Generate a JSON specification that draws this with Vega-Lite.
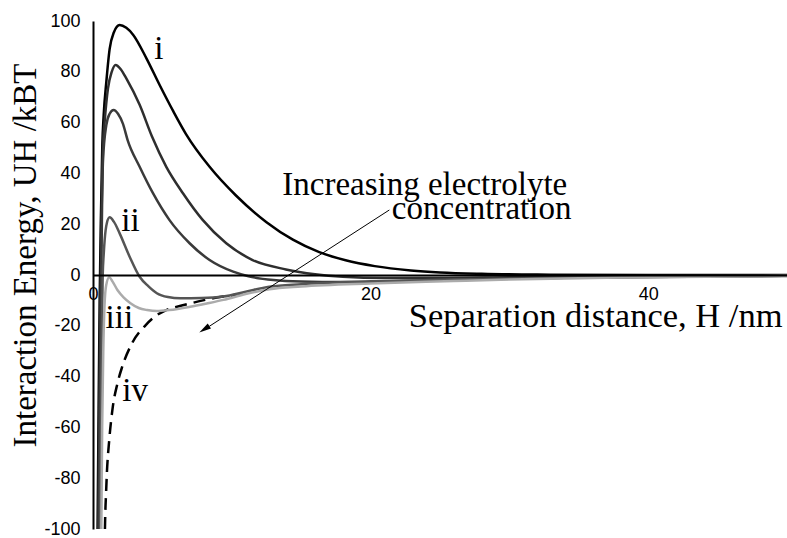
{
  "$schema": "https://vega.github.io/schema/vega-lite/v6.json",
  "width": 694,
  "height": 508,
  "autosize": "none",
  "padding": {"left": 93, "top": 21, "right": 0, "bottom": 9},
  "background": "white",
  "config": {"view": {"stroke": null}},
  "datasets": {
    "curves": [
      {"curve": "i", "H": 0.33, "U": -100}, {"curve": "i", "H": 0.4, "U": -55}, {"curve": "i", "H": 0.48, "U": -10}, {"curve": "i", "H": 0.56, "U": 20}, {"curve": "i", "H": 0.67, "U": 51}, {"curve": "i", "H": 0.77, "U": 63}, {"curve": "i", "H": 0.96, "U": 76}, {"curve": "i", "H": 1.2, "U": 89}, {"curve": "i", "H": 1.5, "U": 95.5}, {"curve": "i", "H": 1.92, "U": 98.4}, {"curve": "i", "H": 2.4, "U": 97.3}, {"curve": "i", "H": 2.9, "U": 94.5}, {"curve": "i", "H": 3.85, "U": 85.3}, {"curve": "i", "H": 4.8, "U": 74.8}, {"curve": "i", "H": 5.77, "U": 64.6}, {"curve": "i", "H": 6.7, "U": 55.5}, {"curve": "i", "H": 8.4, "U": 42.6}, {"curve": "i", "H": 10.3, "U": 31.3}, {"curve": "i", "H": 12.5, "U": 20.8}, {"curve": "i", "H": 14.4, "U": 13.9}, {"curve": "i", "H": 16.3, "U": 9.0}, {"curve": "i", "H": 18.2, "U": 5.8}, {"curve": "i", "H": 20.3, "U": 3.5}, {"curve": "i", "H": 22.9, "U": 1.8}, {"curve": "i", "H": 25, "U": 1.0}, {"curve": "i", "H": 28, "U": 0.45}, {"curve": "i", "H": 32, "U": 0.15}, {"curve": "i", "H": 40, "U": 0}, {"curve": "i", "H": 50, "U": 0},

      {"curve": "c2", "H": 0.38, "U": -100}, {"curve": "c2", "H": 0.45, "U": -55}, {"curve": "c2", "H": 0.53, "U": -10}, {"curve": "c2", "H": 0.62, "U": 25}, {"curve": "c2", "H": 0.72, "U": 51}, {"curve": "c2", "H": 0.84, "U": 60.4}, {"curve": "c2", "H": 1.08, "U": 73.5}, {"curve": "c2", "H": 1.35, "U": 80}, {"curve": "c2", "H": 1.63, "U": 82.7}, {"curve": "c2", "H": 2.0, "U": 81}, {"curve": "c2", "H": 2.4, "U": 77.4}, {"curve": "c2", "H": 3.36, "U": 67}, {"curve": "c2", "H": 4.25, "U": 54.5}, {"curve": "c2", "H": 5.28, "U": 42.6}, {"curve": "c2", "H": 6.48, "U": 32.2}, {"curve": "c2", "H": 7.9, "U": 21.7}, {"curve": "c2", "H": 9.6, "U": 12.5}, {"curve": "c2", "H": 11.5, "U": 5.9}, {"curve": "c2", "H": 13.9, "U": 2.2}, {"curve": "c2", "H": 16, "U": 0.3}, {"curve": "c2", "H": 18, "U": -0.7}, {"curve": "c2", "H": 21, "U": -1.2}, {"curve": "c2", "H": 25, "U": -1.2}, {"curve": "c2", "H": 30, "U": -0.9}, {"curve": "c2", "H": 38, "U": -0.5}, {"curve": "c2", "H": 50, "U": -0.2},

      {"curve": "c3", "H": 0.42, "U": -100}, {"curve": "c3", "H": 0.5, "U": -50}, {"curve": "c3", "H": 0.58, "U": -5}, {"curve": "c3", "H": 0.66, "U": 30}, {"curve": "c3", "H": 0.72, "U": 45}, {"curve": "c3", "H": 0.96, "U": 59}, {"curve": "c3", "H": 1.2, "U": 63.5}, {"curve": "c3", "H": 1.49, "U": 65}, {"curve": "c3", "H": 1.8, "U": 63.5}, {"curve": "c3", "H": 2.16, "U": 59.5}, {"curve": "c3", "H": 2.5, "U": 53}, {"curve": "c3", "H": 3.36, "U": 42.6}, {"curve": "c3", "H": 4.32, "U": 32.2}, {"curve": "c3", "H": 5.5, "U": 21.7}, {"curve": "c3", "H": 6.96, "U": 12.5}, {"curve": "c3", "H": 8.4, "U": 5.9}, {"curve": "c3", "H": 10.1, "U": 1.3}, {"curve": "c3", "H": 11.2, "U": -0.5}, {"curve": "c3", "H": 13, "U": -2}, {"curve": "c3", "H": 15, "U": -2.6}, {"curve": "c3", "H": 18, "U": -2.8}, {"curve": "c3", "H": 22, "U": -2.5}, {"curve": "c3", "H": 27, "U": -1.8}, {"curve": "c3", "H": 35, "U": -1}, {"curve": "c3", "H": 50, "U": -0.3},

      {"curve": "ii", "H": 0.52, "U": -100}, {"curve": "ii", "H": 0.57, "U": -60}, {"curve": "ii", "H": 0.63, "U": -25}, {"curve": "ii", "H": 0.7, "U": 0}, {"curve": "ii", "H": 0.77, "U": 8}, {"curve": "ii", "H": 0.84, "U": 13.8}, {"curve": "ii", "H": 1.0, "U": 20.5}, {"curve": "ii", "H": 1.2, "U": 22.7}, {"curve": "ii", "H": 1.5, "U": 21}, {"curve": "ii", "H": 1.92, "U": 16.4}, {"curve": "ii", "H": 2.64, "U": 7.2}, {"curve": "ii", "H": 3.36, "U": -0.7}, {"curve": "ii", "H": 4.0, "U": -4.5}, {"curve": "ii", "H": 4.6, "U": -7.2}, {"curve": "ii", "H": 5.4, "U": -8.7}, {"curve": "ii", "H": 6.3, "U": -9.2}, {"curve": "ii", "H": 7.8, "U": -9.1}, {"curve": "ii", "H": 9.4, "U": -8.5}, {"curve": "ii", "H": 11, "U": -6.6}, {"curve": "ii", "H": 12.7, "U": -4.6}, {"curve": "ii", "H": 15, "U": -3.6}, {"curve": "ii", "H": 20, "U": -2.5}, {"curve": "ii", "H": 26, "U": -1.8}, {"curve": "ii", "H": 35, "U": -1}, {"curve": "ii", "H": 50, "U": -0.4},

      {"curve": "iii", "H": 0.6, "U": -100}, {"curve": "iii", "H": 0.66, "U": -60}, {"curve": "iii", "H": 0.74, "U": -30}, {"curve": "iii", "H": 0.83, "U": -12}, {"curve": "iii", "H": 0.95, "U": -4}, {"curve": "iii", "H": 1.17, "U": -0.9}, {"curve": "iii", "H": 1.4, "U": -2.5}, {"curve": "iii", "H": 1.76, "U": -5.9}, {"curve": "iii", "H": 2.2, "U": -8.8}, {"curve": "iii", "H": 2.7, "U": -11.1}, {"curve": "iii", "H": 3.3, "U": -13}, {"curve": "iii", "H": 3.9, "U": -13.8}, {"curve": "iii", "H": 4.6, "U": -14.2}, {"curve": "iii", "H": 5.5, "U": -13.8}, {"curve": "iii", "H": 7, "U": -12.5}, {"curve": "iii", "H": 8.2, "U": -11.2}, {"curve": "iii", "H": 9.4, "U": -9.8}, {"curve": "iii", "H": 11, "U": -7.5}, {"curve": "iii", "H": 12.7, "U": -5.6}, {"curve": "iii", "H": 15, "U": -4.5}, {"curve": "iii", "H": 20, "U": -3.3}, {"curve": "iii", "H": 26, "U": -2.4}, {"curve": "iii", "H": 30, "U": -1.8}, {"curve": "iii", "H": 38, "U": -1}, {"curve": "iii", "H": 50, "U": -0.4}
    ],
    "dashed": [
      {"H": 0.86, "U": -100}, {"H": 0.88, "U": -95}, {"H": 0.94, "U": -86}, {"H": 1.0, "U": -78}, {"H": 1.17, "U": -65}, {"H": 1.4, "U": -53}, {"H": 1.76, "U": -42.7}, {"H": 2.1, "U": -36.2}, {"H": 2.8, "U": -27}, {"H": 3.8, "U": -19.7}, {"H": 4.5, "U": -16.2}, {"H": 5.2, "U": -14}, {"H": 6, "U": -12.6}, {"H": 7, "U": -11.2}, {"H": 8, "U": -9.9}, {"H": 9.4, "U": -8.5}, {"H": 11, "U": -7.2}
    ],
    "labels": [
      {"H": 4.75, "U": 84.9, "text": "i"},
      {"H": 2.7, "U": 17.4, "text": "ii"},
      {"H": 1.9, "U": -20.7, "text": "iii"},
      {"H": 3.03, "U": -49.6, "text": "iv"},
      {"H": 23.9, "U": 31.5, "text": "Increasing electrolyte"},
      {"H": 28.0, "U": 21.9, "text": "concentration"}
    ],
    "arrow": [
      {"H": 21.35, "U": 25.6, "H2": 8.38, "U2": -20.2, "Hh": 8.02, "Uh": -21.4}
    ]
  },
  "layer": [
    {
      "data": {"name": "dashed"},
      "mark": {"type": "line", "color": "black", "strokeWidth": 2.5, "strokeDash": [12, 7], "interpolate": "monotone", "clip": true},
      "encoding": {
        "x": {"field": "H", "type": "quantitative", "scale": {"domain": [0, 50], "nice": false, "zero": false},
          "axis": {"orient": "bottom", "offset": -254, "values": [0, 20, 40], "ticks": false, "grid": false, "domainColor": "black", "domainWidth": 2, "labelFont": "Liberation Sans", "labelFontSize": 18, "labelColor": "black", "labelPadding": 10, "labelFlush": false, "labelOverlap": false, "zindex": 1,
            "title": "Separation distance, H /nm", "titleFont": "Liberation Serif", "titleFontSize": 34.5, "titleFontWeight": "normal", "titleColor": "black", "titleAlign": "right", "titleAnchor": null, "titleBaseline": "alphabetic", "titleX": 689, "titleY": 51}},
        "y": {"field": "U", "type": "quantitative", "scale": {"domain": [-100, 100], "nice": false, "zero": false},
          "axis": {"orient": "left", "values": [-100, -80, -60, -40, -20, 0, 20, 40, 60, 80, 100], "ticks": false, "grid": false, "domainColor": "black", "domainWidth": 2, "labelFont": "Liberation Sans", "labelFontSize": 18, "labelColor": "black", "labelPadding": 13, "labelFlush": false, "labelOverlap": false,
            "labelExpr": "datum.value < 0 ? '-' + abs(datum.value) : '' + datum.value",
            "title": "Interaction Energy, UH /kBT", "titleFont": "Liberation Serif", "titleFontSize": 33, "titleFontWeight": "normal", "titleColor": "black", "titleAngle": -90, "titleAlign": "center", "titleAnchor": null, "titleBaseline": "alphabetic", "titleX": -58, "titleY": 234}}
      }
    },
    {
      "data": {"name": "curves"},
      "transform": [{"filter": "datum.curve !== 'iii'"}],
      "mark": {"type": "line", "strokeWidth": 2.5, "interpolate": "monotone", "clip": true},
      "encoding": {
        "x": {"field": "H", "type": "quantitative"},
        "y": {"field": "U", "type": "quantitative"},
        "detail": {"field": "curve"},
        "color": {"field": "curve", "type": "nominal", "scale": {"domain": ["i", "c2", "c3", "ii"], "range": ["#000000", "#2e2e2e", "#3a3a3a", "#555555"]}, "legend": null}
      }
    },
    {
      "data": {"name": "curves"},
      "transform": [{"filter": "datum.curve === 'iii'"}],
      "mark": {"type": "line", "strokeWidth": 2.5, "interpolate": "monotone", "clip": true, "color": "#ababab"},
      "encoding": {
        "x": {"field": "H", "type": "quantitative"},
        "y": {"field": "U", "type": "quantitative"}
      }
    },
    {
      "data": {"name": "arrow"},
      "mark": {"type": "rule", "color": "black", "strokeWidth": 1},
      "encoding": {
        "x": {"field": "H", "type": "quantitative"},
        "y": {"field": "U", "type": "quantitative"},
        "x2": {"field": "H2"},
        "y2": {"field": "U2"}
      }
    },
    {
      "data": {"name": "arrow"},
      "mark": {"type": "point", "shape": "M0,-1L0.5,1L-0.5,1Z", "filled": true, "color": "black", "size": 144, "angle": 237, "opacity": 1},
      "encoding": {
        "x": {"field": "Hh", "type": "quantitative"},
        "y": {"field": "Uh", "type": "quantitative"}
      }
    },
    {
      "data": {"name": "labels"},
      "mark": {"type": "text", "font": "Liberation Serif", "fontSize": 33, "color": "black", "align": "center", "baseline": "alphabetic"},
      "encoding": {
        "x": {"field": "H", "type": "quantitative"},
        "y": {"field": "U", "type": "quantitative"},
        "text": {"field": "text"}
      }
    }
  ]
}
